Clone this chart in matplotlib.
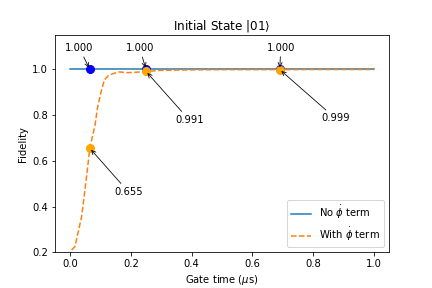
import matplotlib
matplotlib.use("Agg")
import matplotlib.pyplot as plt
import numpy as np

# Data
t_no = [0.0, 0.25, 0.5, 0.75, 1.0]
f_no = [1.0, 1.0, 1.0, 1.0, 1.0]

t_with = [0.005, 0.016, 0.027, 0.038, 0.049, 0.060, 0.065, 0.075, 0.082, 0.090,
          0.101, 0.113, 0.125, 0.142, 0.162, 0.190, 0.220, 0.250, 0.300, 0.400,
          0.500, 0.600, 0.690, 0.800, 0.900, 1.000]
f_with = [0.210, 0.225, 0.290, 0.356, 0.473, 0.597, 0.655, 0.715, 0.755, 0.830,
          0.897, 0.954, 0.972, 0.982, 0.989, 0.986, 0.988, 0.991, 0.996, 0.998,
          0.999, 0.999, 0.999, 0.9995, 0.9995, 0.9995]

pt_times = [0.065, 0.25, 0.69]
pt_no = [1.000, 1.000, 1.000]
pt_with = [0.655, 0.991, 0.999]

# Label placement (data coords)
no_label_pos = [(0.031, 1.093), (0.229, 1.093), (0.693, 1.095)]
with_label_pos = [(0.192, 0.464), (0.392, 0.779), (0.873, 0.786)]

fig = plt.figure(figsize=(6, 4), dpi=72)
ax = fig.add_subplot(111)
fig.subplots_adjust(left=0.127, right=0.901, top=0.878, bottom=0.124)

ax.plot(t_no, f_no, '-', color='C0', label=r'No $\dot{\phi}$ term')
ax.plot(t_with, f_with, '--', color='C1', label=r'With $\dot{\phi}$ term')

ax.plot(pt_times, pt_no, 'o', color='blue', ms=8)
ax.plot(pt_times, pt_with, 'o', color='orange', ms=8)

for (x, y), (tx, ty) in zip(zip(pt_times, pt_no), no_label_pos):
    ax.annotate(f'{y:.3f}', xy=(x, y), xytext=(tx, ty), ha='center', va='center',
                arrowprops=dict(arrowstyle='->', color='black', lw=0.8))
for (x, y), (tx, ty) in zip(zip(pt_times, pt_with), with_label_pos):
    ax.annotate(f'{y:.3f}', xy=(x, y), xytext=(tx, ty), ha='center', va='center',
                arrowprops=dict(arrowstyle='->', color='black', lw=0.8))

ax.set_ylim(0.2, 1.15)
ax.set_xlim(-0.05, 1.05)
ax.set_yticks([0.2, 0.4, 0.6, 0.8, 1.0])
ax.set_xlabel(r'Gate time ($\mu$s)')
ax.set_ylabel('Fidelity')
ax.set_title(r'Initial State $|01\rangle$')
ax.legend(loc='lower right')

fig.savefig('out.png', dpi=72)
